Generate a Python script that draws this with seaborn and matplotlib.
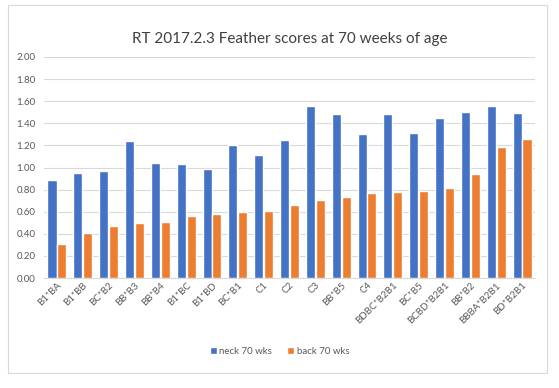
import matplotlib
matplotlib.use("Agg")
import matplotlib.pyplot as plt
import seaborn as sns
import pandas as pd
from matplotlib.patches import Rectangle

categories = ["B1*BA", "B1*BB", "BC*B2", "BB*B3", "BB*B4", "B1*BC", "B1*BD", "BC*B1",
              "C1", "C2", "C3", "BB*B5", "C4", "BDBC*B2B1", "BC*B5", "BCBD*B2B1",
              "BB*B2", "BBBA*B2B1", "BD*B2B1"]
neck = [0.89, 0.95, 0.97, 1.24, 1.04, 1.03, 0.99, 1.20, 1.11, 1.25, 1.56, 1.48,
        1.30, 1.48, 1.31, 1.45, 1.50, 1.56, 1.49]
back = [0.31, 0.41, 0.47, 0.50, 0.51, 0.56, 0.58, 0.60, 0.61, 0.66, 0.71, 0.73,
        0.77, 0.78, 0.79, 0.81, 0.94, 1.19, 1.26]
series = ["neck 70 wks", "back 70 wks"]
colors = ["#4472C4", "#ED7D31"]

df = pd.DataFrame({
    "cat": categories * 2,
    "val": neck + back,
    "series": [series[0]] * len(categories) + [series[1]] * len(categories),
})

sns.set_style("white")
plt.rcParams["font.family"] = ["Lato", "DejaVu Sans"]

fig = plt.figure(figsize=(5.59, 3.88), dpi=100)
ax = fig.add_axes([44 / 559, 110 / 388, (535 - 44) / 559, (278 - 57) / 388])

sns.barplot(data=df, x="cat", y="val", hue="series", palette=colors, ax=ax,
            width=0.76, gap=0.08, saturation=1, legend=True, zorder=3)

ax.set_ylim(0, 2.0)
ax.set_yticks([i * 0.2 for i in range(11)])
ax.set_yticklabels([f"{i * 0.2:.2f}" for i in range(11)])
ax.set_xlim(-0.5, len(categories) - 0.5)
ax.grid(axis="y", color="#D9D9D9", linewidth=0.8, zorder=0)
ax.set_axisbelow(True)
for s in ["top", "right", "left"]:
    ax.spines[s].set_visible(False)
ax.spines["bottom"].set_color("#D9D9D9")
ax.set_xlabel("")
ax.set_ylabel("")
ax.tick_params(axis="y", length=0, labelsize=7, labelcolor="#595959", pad=6)
ax.tick_params(axis="x", length=0, labelsize=7, labelcolor="#595959", pad=2)
plt.setp(ax.get_xticklabels(), rotation=45, ha="right", rotation_mode="anchor")

ax.set_title("RT 2017.2.3 Feather scores at 70 weeks of age", fontsize=11,
             color="#404040", pad=10)

handles, labels = ax.get_legend_handles_labels()
leg = ax.legend(handles, labels, loc="center", bbox_to_anchor=(0.5, (388 - 351) / 388),
                bbox_transform=fig.transFigure, ncol=2, frameon=False, fontsize=7,
                handlelength=0.7, handleheight=0.7, handletextpad=0.3, columnspacing=1.5)
for t in leg.get_texts():
    t.set_color("#595959")

fig.patches.append(Rectangle((8 / 559, (388 - 373) / 388), (547 - 8) / 559, (373 - 5) / 388,
                             transform=fig.transFigure, fill=False, edgecolor="#D9D9D9",
                             linewidth=0.8))

fig.savefig("out.png", dpi=100)
